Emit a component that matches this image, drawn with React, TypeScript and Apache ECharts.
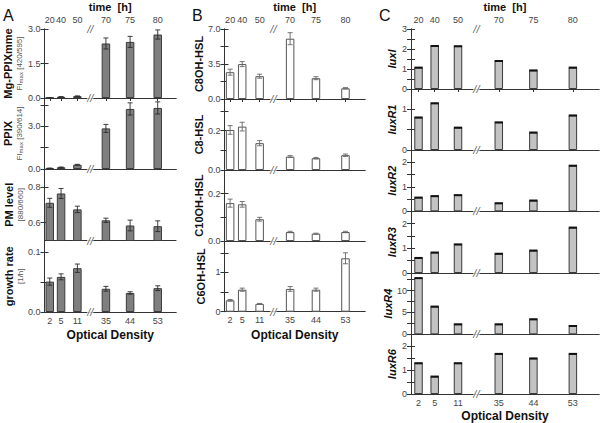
import React, { useEffect, useRef } from "react";
import * as echarts from "echarts";

// ---- shared x layout (broken axis: slot positions on a 0..100 axis) ----
const xPos = [4, 12.6, 25, 46.7, 65.1, 86.1];
const odLabels = ["2", "5", "11", "35", "44", "53"];
const timeLabels = ["20", "40", "50", "70", "75", "80"];
const breakX = 34.8;

// ---- Panel A ----
const mgPpix = [0.01, 0.05, 0.08, 2.37, 2.44, 2.76];
const mgPpixErr = [0.01, 0.01, 0.01, 0.24, 0.24, 0.2];
const ppix = [0.05, 0.12, 0.3, 2.86, 4.23, 4.3];
const ppixErr = [0.02, 0.02, 0.03, 0.28, 0.43, 0.43];
const pmLevel = [0.711, 0.763, 0.674, 0.613, 0.584, 0.58];
const pmLevelErr = [0.025, 0.028, 0.018, 0.012, 0.03, 0.03];
const growth = [0.051, 0.059, 0.0735, 0.039, 0.032, 0.04];
const growthErr = [0.006, 0.005, 0.007, 0.004, 0.002, 0.004];

// ---- Panel B ----
const c8oh = [2.68, 3.49, 2.28, 6.03, 2.08, 1.07];
const c8ohErr = [0.3, 0.25, 0.2, 0.6, 0.15, 0.07];
const c8 = [0.203, 0.22, 0.136, 0.068, 0.06, 0.075];
const c8Err = [0.022, 0.022, 0.013, 0.005, 0.004, 0.006];
const c10oh = [0.16, 0.155, 0.092, 0.038, 0.031, 0.038];
const c10ohErr = [0.017, 0.012, 0.008, 0.003, 0.002, 0.003];
const c6oh = [0.29, 0.56, 0.2, 0.58, 0.56, 1.36];
const c6ohErr = [0.02, 0.04, 0.01, 0.06, 0.04, 0.14];

// ---- Panel C ----
const luxI = [1.07, 2.15, 2.14, 1.4, 0.93, 1.07];
const luxR1 = [0.8, 1.15, 0.55, 0.68, 0.43, 0.85];
const luxR2 = [0.56, 0.62, 0.66, 0.33, 0.44, 1.86];
const luxR3 = [0.61, 0.83, 1.16, 0.78, 0.91, 1.84];
const luxR4 = [12.84, 6.33, 2.29, 2.29, 3.44, 1.9];
const luxR6 = [1.29, 0.73, 1.29, 1.68, 1.49, 1.68];

// ---- tick values / labels ----
const mgTicks = [0, 1.5, 3];
const mgLabels = [0, 1.5, 3];
const ppixTicks = [0, 1.5, 3, 4.5];
const ppixLabels = [0, 3];
const pmTicks = [0.6, 0.8];
const pmLabels = [0.6, 0.8];
const growthTicks = [0, 0.05, 0.1];
const growthLabels = [0, 0.1];
const c8ohTicks = [0, 1.75, 3.5, 5.25, 7];
const c8ohLabels = [0, 3.5, 7];
const c8Ticks = [0, 0.1, 0.2, 0.3];
const c8Labels = [0, 0.2];
const c10Ticks = [0, 0.1, 0.2];
const c10Labels = [0, 0.2];
const c6Ticks = [0, 0.5, 1, 1.5];
const c6Labels = [0, 1];
const luxITicks = [0, 0.5, 1, 1.5, 2, 2.5, 3];
const luxILabels = [0, 1, 2, 3];
const luxR1Ticks = [0, 0.5, 1];
const luxR1Labels = [0, 1];
const lux25Ticks = [0, 0.5, 1, 1.5, 2];
const lux25Labels = [0, 1, 2];
const luxR4Ticks = [0, 2.5, 5, 7.5, 10, 12.5];
const luxR4Labels = [0, 5, 10];

const FONT = "Liberation Sans, Arial, Helvetica, sans-serif";
const AX = "#333";

const richA = {
  b: { fontSize: 11, fontWeight: "bold", color: "#111", lineHeight: 12, fontFamily: FONT },
  u: { fontSize: 8, color: "#555", lineHeight: 10, fontFamily: FONT },
  s: { fontSize: 6, color: "#555", lineHeight: 10, verticalAlign: "bottom", fontFamily: FONT },
};

type Sub = {
  v: number[];
  e?: number[];
  min: number;
  max: number;
  ticks: number[];
  labels: number[];
  dec: number;
  name: string;
};

const panels = [
  {
    letter: "A",
    letterX: 3,
    left: 44.5,
    width: 131.5,
    bounds: [28, 98, 169, 240.5, 312],
    fill: "#7f7f7f",
    border: "#3c3c3c",
    errColor: "#2a2a2a",
    kind: "err",
    nameGap: 19,
    odGap: 17,
    nameStyle: { rich: richA },
    subs: [
      { v: mgPpix, e: mgPpixErr, min: 0, max: 3, ticks: mgTicks, labels: mgLabels, dec: 1, name: "{b|Mg-PPIXmme}\n{u|FI}{s|max}{u| [420/595]}" },
      { v: ppix, e: ppixErr, min: 0, max: 5, ticks: ppixTicks, labels: ppixLabels, dec: 1, name: "{b|PPIX}\n{u|FI}{s|max}{u| [390/614]}" },
      { v: pmLevel, e: pmLevelErr, min: 0.5, max: 0.9, ticks: pmTicks, labels: pmLabels, dec: 1, name: "{b|PM level}\n{u|[880/660]}" },
      { v: growth, e: growthErr, min: 0, max: 0.12, ticks: growthTicks, labels: growthLabels, dec: 1, name: "{b|growth rate}\n{u|[1/h]}" },
    ] as Sub[],
  },
  {
    letter: "B",
    letterX: 192,
    left: 224.5,
    width: 140.5,
    bounds: [29, 99, 170, 241, 311.7],
    fill: "#ffffff",
    border: "#555",
    errColor: "#666",
    kind: "err",
    nameGap: 18,
    odGap: 17,
    nameStyle: { fontSize: 11, fontWeight: "bold", color: "#111", fontFamily: FONT },
    subs: [
      { v: c8oh, e: c8ohErr, min: 0, max: 7, ticks: c8ohTicks, labels: c8ohLabels, dec: 1, name: "C8OH-HSL" },
      { v: c8, e: c8Err, min: 0, max: 0.36, ticks: c8Ticks, labels: c8Labels, dec: 1, name: "C8-HSL" },
      { v: c10oh, e: c10ohErr, min: 0, max: 0.3, ticks: c10Ticks, labels: c10Labels, dec: 1, name: "C10OH-HSL" },
      { v: c6oh, e: c6ohErr, min: 0, max: 1.8, ticks: c6Ticks, labels: c6Labels, dec: 0, name: "C6OH-HSL" },
    ] as Sub[],
  },
  {
    letter: "C",
    letterX: 379,
    left: 411,
    width: 188,
    bounds: [28.3, 89, 150, 211.3, 273, 334.3, 396],
    fill: "#c3c3c3",
    border: "#3a3a3a",
    errColor: "#111",
    kind: "cap",
    nameGap: 14,
    odGap: 16,
    nameStyle: { fontSize: 11, fontWeight: "bold", fontStyle: "italic", color: "#111", fontFamily: FONT },
    subs: [
      { v: luxI, min: 0, max: 3, ticks: luxITicks, labels: luxILabels, dec: 0, name: "luxI" },
      { v: luxR1, min: 0, max: 1.5, ticks: luxR1Ticks, labels: luxR1Labels, dec: 0, name: "luxR1" },
      { v: luxR2, min: 0, max: 2.5, ticks: lux25Ticks, labels: lux25Labels, dec: 0, name: "luxR2" },
      { v: luxR3, min: 0, max: 2.5, ticks: lux25Ticks, labels: lux25Labels, dec: 0, name: "luxR3" },
      { v: luxR4, min: 0, max: 14, ticks: luxR4Ticks, labels: luxR4Labels, dec: 0, name: "luxR4" },
      { v: luxR6, min: 0, max: 2.5, ticks: lux25Ticks, labels: lux25Labels, dec: 0, name: "luxR6" },
    ] as Sub[],
  },
];

function nearestIdx(v: number) {
  let best = 0;
  for (let i = 1; i < xPos.length; i++) {
    if (Math.abs(xPos[i] - v) < Math.abs(xPos[best] - v)) best = i;
  }
  return best;
}

function buildOption() {
  const grids: any[] = [];
  const xAxes: any[] = [];
  const yAxes: any[] = [];
  const series: any[] = [];
  const graphics: any[] = [];
  const labelStyle = { fontSize: 9, color: "#444", fontFamily: FONT };

  panels.forEach((p) => {
    graphics.push({
      type: "text",
      left: p.letterX,
      top: 7,
      style: { text: p.letter, fontSize: 16, fill: "#111", fontFamily: FONT },
    });
    p.subs.forEach((s, si) => {
      const g = grids.length;
      const top = p.bounds[si];
      const bottom = p.bounds[si + 1];
      const isTop = si === 0;
      const isBottom = si === p.subs.length - 1;
      grids.push({ left: p.left, top, width: p.width, height: bottom - top });
      const line = { show: true, lineStyle: { color: AX, width: 1 } };
      xAxes.push({
        gridIndex: g,
        type: "value",
        position: "bottom",
        min: 0,
        max: 100,
        axisLine: line,
        axisTick: { show: false },
        splitLine: { show: false },
        axisLabel: isBottom
          ? { ...labelStyle, customValues: xPos, margin: 4, formatter: (v: number) => odLabels[nearestIdx(v)] }
          : { show: false },
        name: isBottom ? "Optical Density" : "",
        nameLocation: "middle",
        nameGap: p.odGap,
        nameTextStyle: { fontSize: 12, fontWeight: "bold", color: "#111", fontFamily: FONT },
      });
      xAxes.push({
        gridIndex: g,
        type: "value",
        position: "top",
        min: 0,
        max: 100,
        axisLine: line,
        axisTick: isTop ? { show: true, inside: true, length: 3, customValues: xPos, lineStyle: { color: AX } } : { show: false },
        splitLine: { show: false },
        axisLabel: isTop
          ? { ...labelStyle, customValues: xPos, margin: 5, formatter: (v: number) => timeLabels[nearestIdx(v)] }
          : { show: false },
        name: isTop ? "time  [h]" : "",
        nameLocation: "middle",
        nameGap: 17,
        nameTextStyle: { fontSize: 11, fontWeight: "bold", color: "#111", fontFamily: FONT },
      });
      yAxes.push({
        gridIndex: g,
        type: "value",
        position: "left",
        min: s.min,
        max: s.max,
        axisLine: line,
        axisTick: { show: true, inside: true, length: 4, customValues: s.ticks, lineStyle: { color: AX } },
        splitLine: { show: false },
        axisLabel: { ...labelStyle, customValues: s.labels, margin: 4, formatter: (v: number) => v.toFixed(s.dec) },
        name: s.name,
        nameLocation: "middle",
        nameRotate: 90,
        nameGap: p.nameGap,
        nameTextStyle: p.nameStyle,
      });
      yAxes.push({
        gridIndex: g,
        type: "value",
        position: "right",
        min: s.min,
        max: s.max,
        axisLine: line,
        axisTick: { show: true, inside: true, length: 4, customValues: s.ticks, lineStyle: { color: AX } },
        splitLine: { show: false },
        axisLabel: { show: false },
      });
      const xi = 2 * g;
      const yi = 2 * g;
      series.push({
        type: "bar",
        xAxisIndex: xi,
        yAxisIndex: yi,
        barWidth: 8.5,
        clip: true,
        data: xPos.map((x, i) => [x, s.v[i]]),
        itemStyle: { color: p.fill, borderColor: p.border, borderWidth: 1 },
        z: 2,
      });
      if (p.kind === "err" && s.e) {
        const errs = s.e;
        series.push({
          type: "custom",
          xAxisIndex: xi,
          yAxisIndex: yi,
          encode: { x: 0, y: 1 },
          clip: false,
          z: 3,
          data: xPos.map((x, i) => [x, s.v[i], errs[i]]),
          renderItem: (_params: any, api: any) => {
            const x = api.value(0);
            const y = api.value(1);
            const e = api.value(2);
            const a = api.coord([x, y + e]);
            const b = api.coord([x, y - e]);
            const w = 2.5;
            const st = { stroke: p.errColor, lineWidth: 0.9 };
            return {
              type: "group",
              children: [
                { type: "line", shape: { x1: a[0], y1: a[1], x2: b[0], y2: b[1] }, style: st },
                { type: "line", shape: { x1: a[0] - w, y1: a[1], x2: a[0] + w, y2: a[1] }, style: st },
                { type: "line", shape: { x1: b[0] - w, y1: b[1], x2: b[0] + w, y2: b[1] }, style: st },
              ],
            };
          },
        });
      } else if (p.kind === "cap") {
        series.push({
          type: "custom",
          xAxisIndex: xi,
          yAxisIndex: yi,
          encode: { x: 0, y: 1 },
          clip: false,
          z: 3,
          data: xPos.map((x, i) => [x, s.v[i]]),
          renderItem: (_params: any, api: any) => {
            const a = api.coord([api.value(0), api.value(1)]);
            return {
              type: "line",
              shape: { x1: a[0] - 4.2, y1: a[1], x2: a[0] + 4.2, y2: a[1] },
              style: { stroke: p.errColor, lineWidth: 2 },
            };
          },
        });
      }
      const brk: number[][] = [[breakX, s.min]];
      if (isTop) brk.push([breakX, s.max]);
      series.push({
        type: "scatter",
        xAxisIndex: xi,
        yAxisIndex: yi,
        clip: false,
        symbolSize: 1,
        itemStyle: { color: "rgba(0,0,0,0)" },
        z: 5,
        silent: true,
        data: brk,
        label: {
          show: true,
          position: "inside",
          formatter: "//",
          fontSize: 11,
          fontStyle: "italic",
          color: "#333",
          fontFamily: FONT,
          backgroundColor: "#fff",
          padding: [0, 0],
          lineHeight: 8,
        },
      });
    });
  });

  return {
    animation: false,
    backgroundColor: "#fff",
    textStyle: { fontFamily: FONT },
    grid: grids,
    xAxis: xAxes,
    yAxis: yAxes,
    series,
    graphic: graphics,
  };
}

export default function App() {
  const ref = useRef<HTMLDivElement>(null);
  useEffect(() => {
    if (!ref.current) return;
    const chart = echarts.init(ref.current, undefined, { renderer: "svg" });
    chart.setOption(buildOption() as any);
    return () => chart.dispose();
  }, []);
  return (
    <div
      ref={ref}
      style={{ position: "absolute", left: 0, top: 0, width: 600, height: 423, background: "#fff" }}
    />
  );
}
